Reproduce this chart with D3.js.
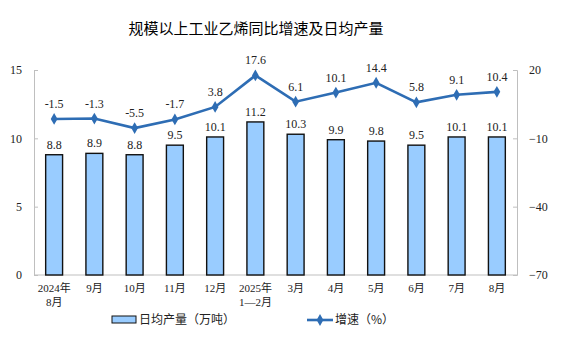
<!DOCTYPE html>
<html>
<head>
<meta charset="utf-8">
<script src="https://cdn.jsdelivr.net/npm/d3@7/dist/d3.min.js"></script>
<style>
  body { margin: 0; background: #fff; }
  svg { display: block; }
</style>
</head>
<body>
<svg id="chart" width="566" height="339"></svg>
<script>
const categories = ["2024年\n8月", "9月", "10月", "11月", "12月", "2025年\n1—2月", "3月", "4月", "5月", "6月", "7月", "8月"];
const output = [8.8, 8.9, 8.8, 9.5, 10.1, 11.2, 10.3, 9.9, 9.8, 9.5, 10.1, 10.1];
const growth = [-1.5, -1.3, -5.5, -1.7, 3.8, 17.6, 6.1, 10.1, 14.4, 5.8, 9.1, 10.4];
const leftTicks = [0, 5, 10, 15];
const rightTicks = [-70, -40, -10, 20];

const svg = d3.select("#chart");
const serif = "'Liberation Serif', 'Times New Roman', 'Noto Sans CJK SC', serif";
const cjk = "'Noto Sans CJK SC', sans-serif";

const plotL = 34, plotR = 517, plotT = 70, plotB = 275;

const x = d3.scaleBand().domain(categories).range([plotL, plotR]).paddingInner(0.58).paddingOuter(0.29);
const yL = d3.scaleLinear().domain([0, 15]).range([plotB, plotT]);
const yR = d3.scaleLinear().domain([-70, 20]).range([plotB, plotT]);
const cx = i => x(categories[i]) + x.bandwidth() / 2;

// Title
svg.append("text").attr("x", 256).attr("y", 34).attr("text-anchor", "middle")
  .style("font-family", cjk).style("font-size", "15px").style("font-weight", "400").attr("fill", "#000")
  .text("规模以上工业乙烯同比增速及日均产量");

// Axes
const axisColor = "#bfbfbf";
const gL = svg.append("g").attr("transform", `translate(${plotL},0)`)
  .call(d3.axisLeft(yL).tickValues(leftTicks).tickSize(-4).tickPadding(12));
const gR = svg.append("g").attr("transform", `translate(${plotR},0)`)
  .call(d3.axisRight(yR).tickValues(rightTicks).tickSize(-4).tickPadding(12));
svg.append("line").attr("x1", plotL).attr("x2", plotR).attr("y1", plotB).attr("y2", plotB).attr("stroke", axisColor);
[gL, gR].forEach(g => {
  g.select(".domain").attr("stroke", axisColor);
  g.selectAll(".tick line").attr("stroke", axisColor);
  g.selectAll(".tick text").style("font-family", serif).style("font-size", "12px").attr("fill", "#222");
});

// Category labels
const xl = svg.append("g");
categories.forEach((c, i) => {
  const t = xl.append("text").attr("x", cx(i)).attr("y", 292)
    .attr("text-anchor", "middle").style("font-family", serif).style("font-size", "11px").attr("fill", "#222");
  c.split("\n").forEach((l, j) => t.append("tspan").attr("x", cx(i)).attr("dy", j === 0 ? 0 : 14).text(l));
});

// Bars
svg.append("g").selectAll("rect").data(output).join("rect")
  .attr("x", (d, i) => x(categories[i]))
  .attr("y", d => yL(d))
  .attr("width", x.bandwidth())
  .attr("height", d => plotB - yL(d))
  .attr("fill", "#99ccff").attr("stroke", "#111").attr("stroke-width", 1.4);

svg.append("g").selectAll("text").data(output).join("text")
  .attr("x", (d, i) => cx(i))
  .attr("y", d => yL(d) - 6)
  .attr("text-anchor", "middle").style("font-family", serif).style("font-size", "12px").attr("fill", "#222")
  .text(d => d.toFixed(1));

// Growth line
const lineColor = "#2e6db4";
const line = d3.line().x((d, i) => cx(i)).y(d => yR(d));
svg.append("path").datum(growth).attr("d", line).attr("fill", "none")
  .attr("stroke", lineColor).attr("stroke-width", 2.6);
const diamond = d3.symbol().type(d3.symbolDiamond).size(40);
svg.append("g").selectAll("path").data(growth).join("path")
  .attr("d", diamond)
  .attr("transform", (d, i) => `translate(${cx(i)},${yR(d)})`)
  .attr("fill", lineColor);
svg.append("g").selectAll("text").data(growth).join("text")
  .attr("x", (d, i) => cx(i))
  .attr("y", d => yR(d) - 11)
  .attr("text-anchor", "middle").style("font-family", serif).style("font-size", "12px").attr("fill", "#222")
  .text(d => d.toFixed(1));

// Legend
const lg = svg.append("g");
lg.append("rect").attr("x", 112).attr("y", 316).attr("width", 24).attr("height", 7)
  .attr("fill", "#99ccff").attr("stroke", "#111").attr("stroke-width", 1);
lg.append("text").attr("x", 139).attr("y", 324).style("font-family", cjk).style("font-size", "12px").attr("fill", "#222")
  .text("日均产量（万吨）");
lg.append("line").attr("x1", 307).attr("x2", 333).attr("y1", 320).attr("y2", 320).attr("stroke", lineColor).attr("stroke-width", 2.6);
lg.append("path").attr("d", diamond).attr("transform", "translate(320,320)").attr("fill", lineColor);
lg.append("text").attr("x", 335).attr("y", 324).style("font-family", cjk).style("font-size", "12px").attr("fill", "#222")
  .text("增速（%）");
</script>
</body>
</html>
